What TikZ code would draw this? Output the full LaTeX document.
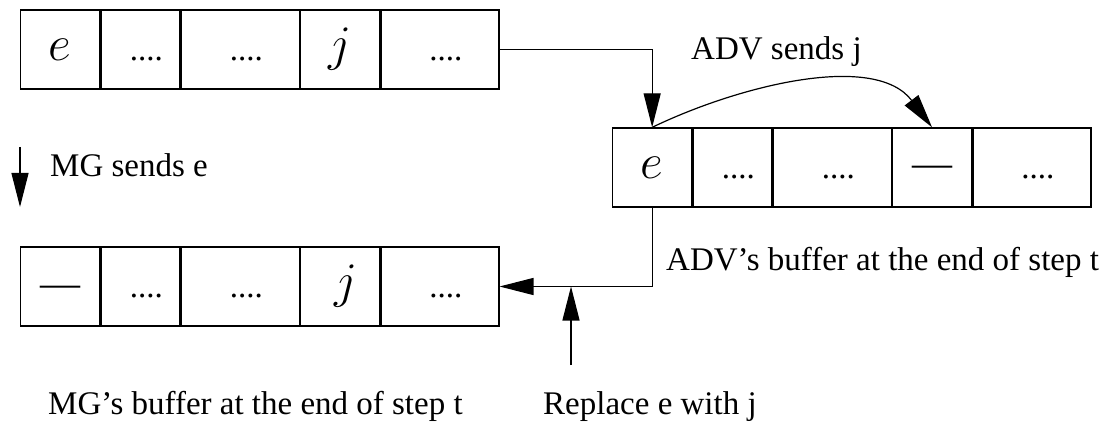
\documentclass[tikz,border=0pt]{standalone}
\usepackage{fontspec}
\setmainfont{Liberation Serif}
\usetikzlibrary{arrows.meta}

\tikzset{
  cellbox/.style={draw, line width=1.3pt, minimum height=79pt, inner sep=0pt, anchor=west},
  narrow/.style={cellbox, minimum width=79pt},
  wide/.style={cellbox, minimum width=118pt},
  lbl/.style={font=\fontsize{33}{40}\selectfont, inner sep=0pt, anchor=base west},
  dotsym/.style={font=\fontsize{33}{40}\selectfont, inner sep=0pt, anchor=base, xshift=6pt, yshift=-11pt},
  letter/.style={font=\fontsize{24.88}{30}\selectfont, inner sep=0pt, anchor=base, yshift=-11pt},
  blank/.style={font=\fontsize{40}{48}\selectfont, inner sep=0pt, anchor=base, yshift=-9.5pt},
  link/.style={line width=1.2pt, -{Triangle[length=34pt,width=17pt]}},
}
\newcommand{\bigsym}[1]{\scalebox{2}{$#1$}}

\begin{document}
\begin{tikzpicture}[x=1pt, y=-1pt]
  \useasboundingbox (0,0) rectangle (1102,422);

  % MG's buffer before step t
  \node[narrow] (t1) at (20,49.5) {};
  \node[narrow] (t2) at (t1.east) {};
  \node[wide]   (t3) at (t2.east) {};
  \node[narrow] (t4) at (t3.east) {};
  \node[wide]   (t5) at (t4.east) {};
  \node[letter] (t1c) at (t1.center) {\bigsym{e}};
  \node[dotsym] (t2c) at (t2.center) {....};
  \node[dotsym] (t3c) at (t3.center) {....};
  \node[letter] (t4c) at (t4.center) {\bigsym{j}};
  \node[dotsym] (t5c) at (t5.center) {....};

  % ADV's buffer
  \node[narrow] (m1) at (612,167.5) {};
  \node[narrow] (m2) at (m1.east) {};
  \node[wide]   (m3) at (m2.east) {};
  \node[narrow] (m4) at (m3.east) {};
  \node[wide]   (m5) at (m4.east) {};
  \node[letter] (m1c) at (m1.center) {\bigsym{e}};
  \node[dotsym] (m2c) at (m2.center) {....};
  \node[dotsym] (m3c) at (m3.center) {....};
  \node[blank]  (m4c) at (m4.center) {\textemdash};
  \node[dotsym] (m5c) at (m5.center) {....};

  % MG's buffer at the end of step t
  \node[narrow] (b1) at (20,286.5) {};
  \node[narrow] (b2) at (b1.east) {};
  \node[wide]   (b3) at (b2.east) {};
  \node[narrow] (b4) at (b3.east) {};
  \node[wide]   (b5) at (b4.east) {};
  \node[blank]  (b1c) at (b1.center) {\textemdash};
  \node[dotsym] (b2c) at (b2.center) {....};
  \node[dotsym] (b3c) at (b3.center) {....};
  \node[letter, xshift=6pt] (b4c) at (b4.center) {\bigsym{j}};
  \node[dotsym] (b5c) at (b5.center) {....};

  % connectors
  \draw[link] (t5.east) -| (m1.north);
  \draw[link] (m1.north) .. controls (740,85) and (875,52) .. (m4.north);
  \draw[link] (m1.south) |- (b5.east);
  \coordinate (repfoot) at (571,365);
  \draw[link] (repfoot) -- (repfoot |- b5.east);
  \coordinate (mgtop) at (20,147);
  \coordinate (mgtip) at (20,207);
  \draw[link] (mgtop) -- (mgtip);

  % labels
  \node[lbl] (advsends) at (691,60) {ADV sends j};
  \node[lbl] (mgsends) at (50,177) {MG sends e};
  \node[lbl] (advbuf) at (666,270) {ADV's buffer at the end of step t};
  \node[lbl] (mgbuf) at (48,414) {MG's buffer at the end of step t};
  \node[lbl] (replace) at (543,414) {Replace e with j};
\end{tikzpicture}
\end{document}
